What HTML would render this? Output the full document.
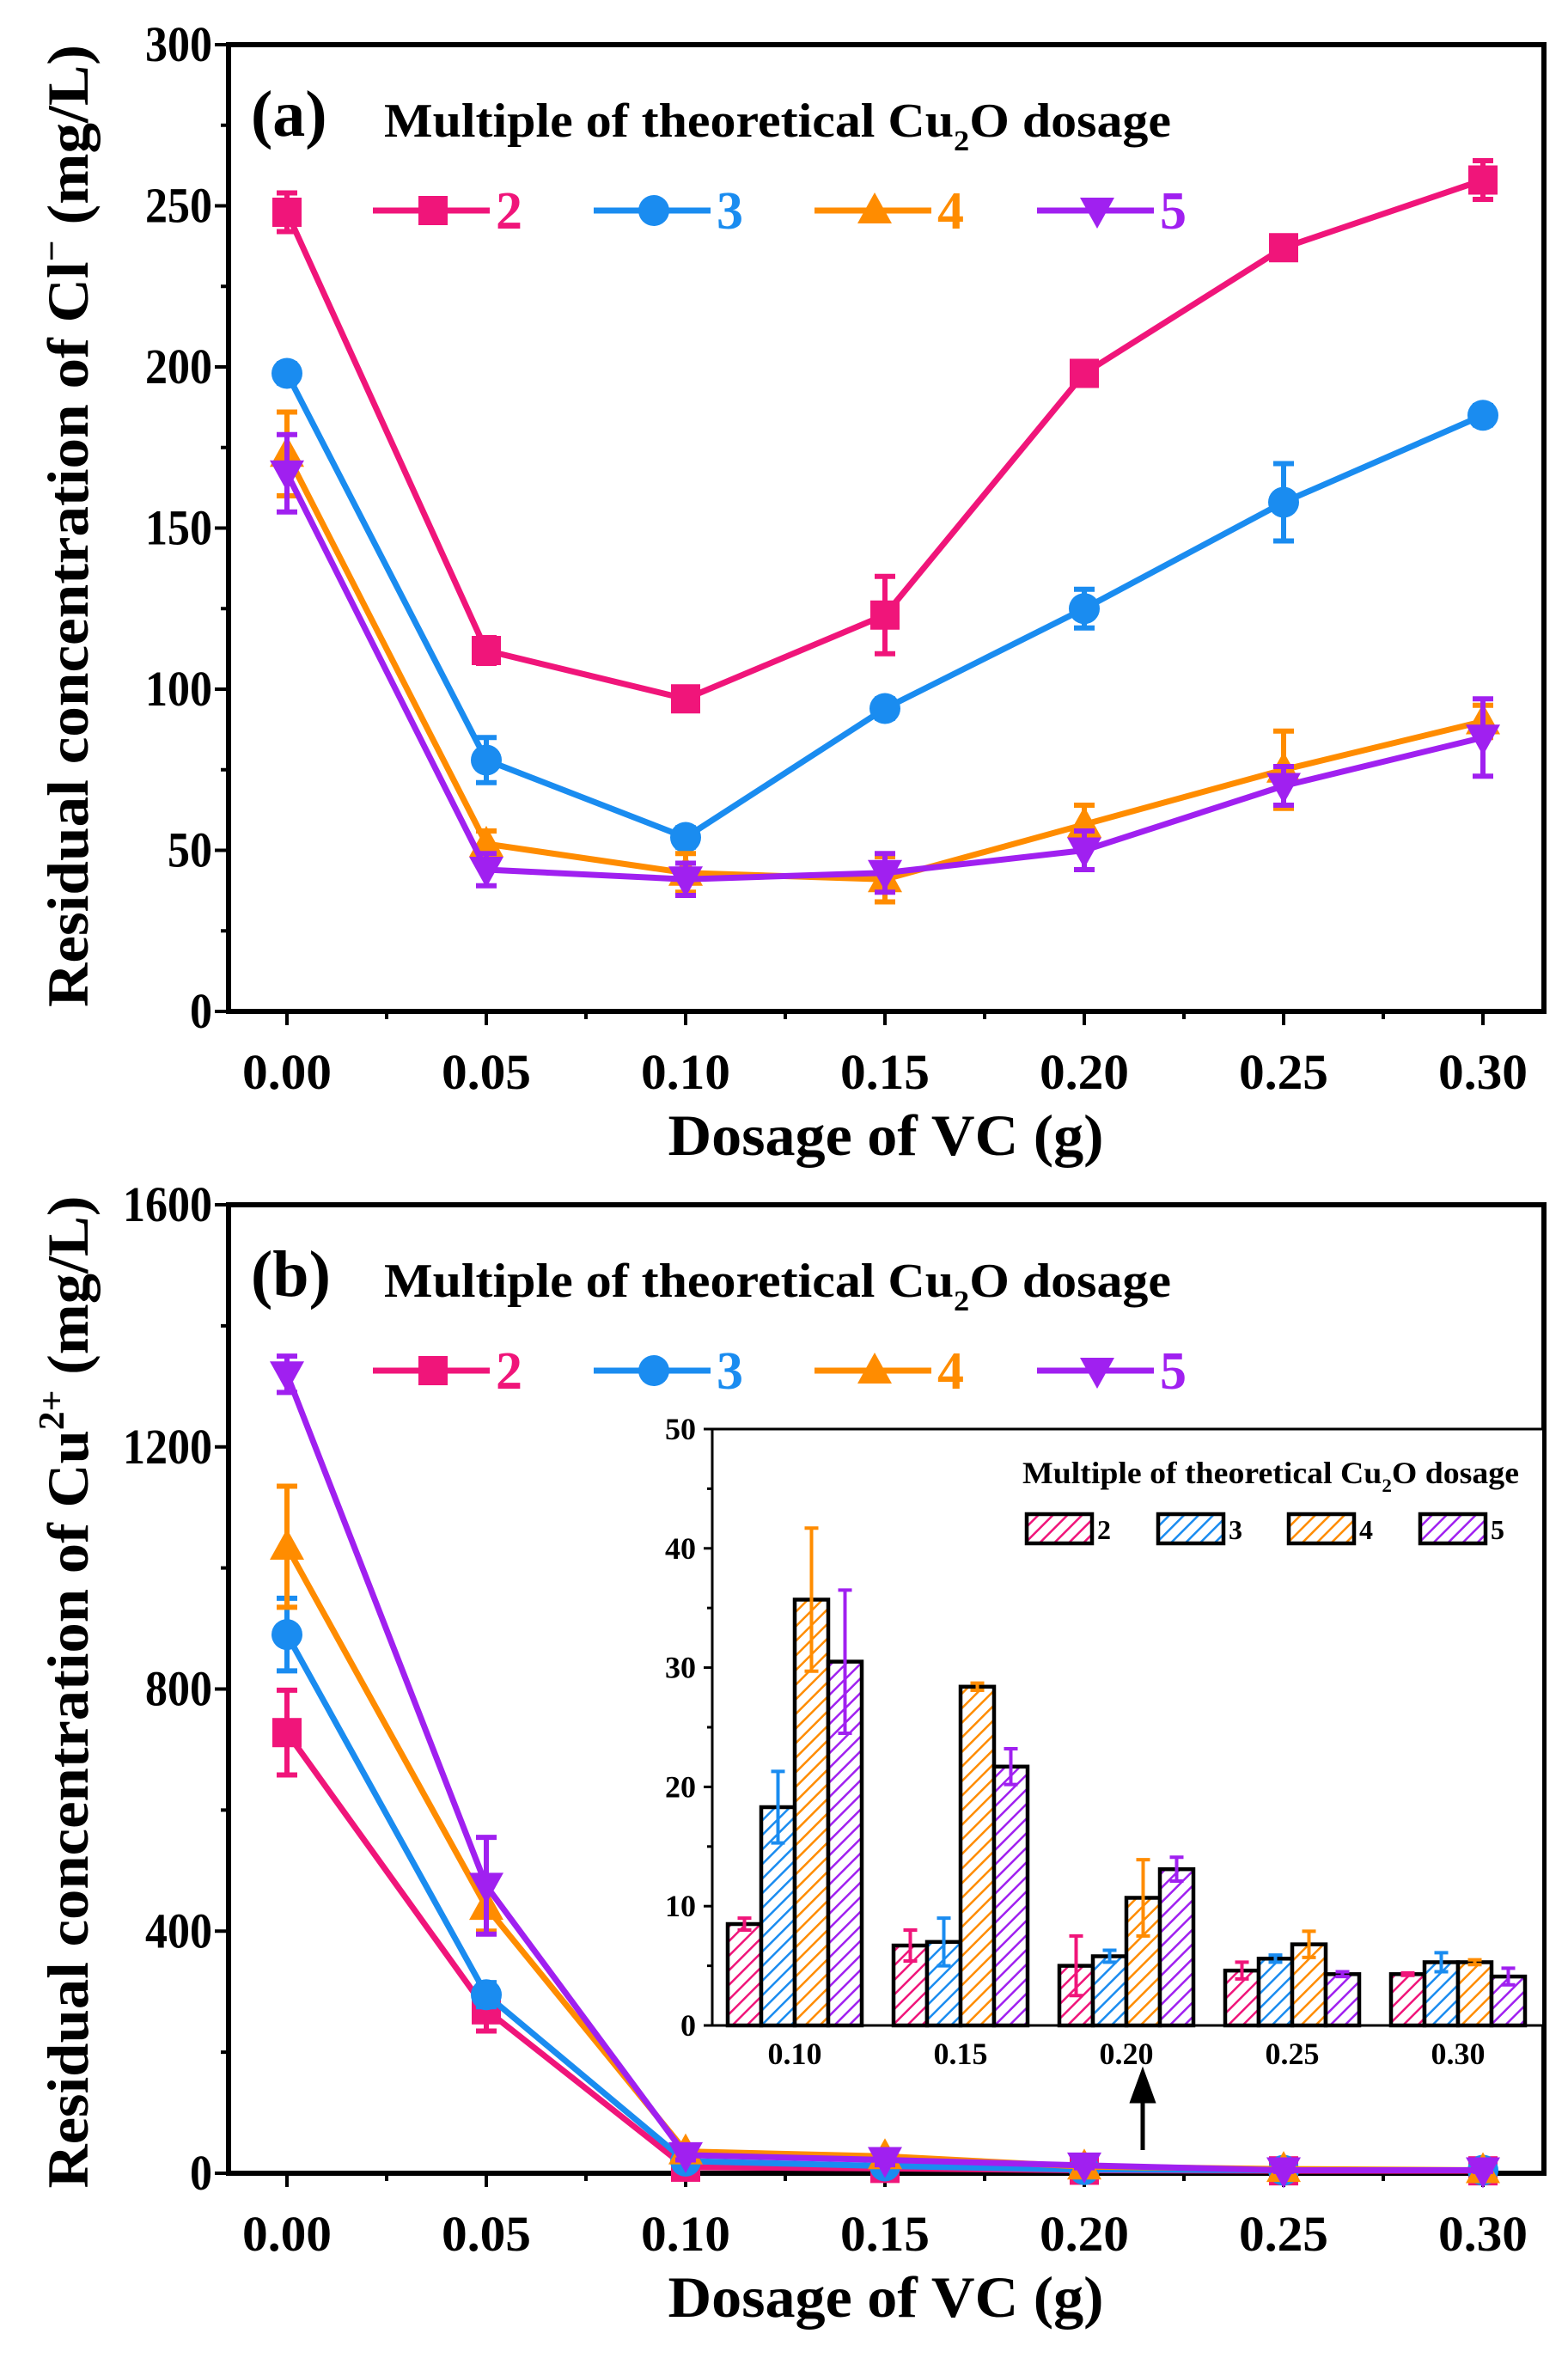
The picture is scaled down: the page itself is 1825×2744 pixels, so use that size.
<!DOCTYPE html>
<html><head><meta charset="utf-8">
<style>
html,body{margin:0;padding:0;background:#fff;}
svg{display:block;font-family:"Liberation Serif",serif;font-weight:bold;}
</style></head>
<body>
<svg id="fig" xmlns="http://www.w3.org/2000/svg" width="1825" height="2744" viewBox="0 0 1825 2744">
<defs>
<pattern id="h0" patternUnits="userSpaceOnUse" width="12" height="12" patternTransform="rotate(45)"><rect width="12" height="12" fill="#fff"/><line x1="0" y1="0" x2="0" y2="12" stroke="#f0157a" stroke-width="5"/></pattern>
<pattern id="h1" patternUnits="userSpaceOnUse" width="12" height="12" patternTransform="rotate(45)"><rect width="12" height="12" fill="#fff"/><line x1="0" y1="0" x2="0" y2="12" stroke="#1a8cf0" stroke-width="5"/></pattern>
<pattern id="h2" patternUnits="userSpaceOnUse" width="12" height="12" patternTransform="rotate(45)"><rect width="12" height="12" fill="#fff"/><line x1="0" y1="0" x2="0" y2="12" stroke="#ff8c00" stroke-width="5"/></pattern>
<pattern id="h3" patternUnits="userSpaceOnUse" width="12" height="12" patternTransform="rotate(45)"><rect width="12" height="12" fill="#fff"/><line x1="0" y1="0" x2="0" y2="12" stroke="#a020f0" stroke-width="5"/></pattern>
</defs>
</svg>
<script>
// ---- data ----
const dosages = [0, 0.05, 0.10, 0.15, 0.20, 0.25, 0.30];
const seriesNames = ["2", "3", "4", "5"];
const clS2 = [248, 112, 97, 123, 198, 237, 258];
const clS3 = [198, 78, 54, 94, 125, 158, 185];
const clS4 = [173, 52, 43, 41, 58, 75, 90];
const clS5 = [167, 44, 41, 43, 50, 70, 85];
const clE2 = [6, 4, 3, 12, 3, 3, 6];
const clE3 = [3, 7, 3, 3, 6, 12, 3];
const clE4 = [13, 4, 6, 7, 6, 12, 5];
const clE5 = [12, 5, 5, 6, 6, 6, 12];
const cuS2 = [728, 270, 10, 8, 5, 4, 4];
const cuS3 = [890, 295, 20, 12, 6, 5, 5];
const cuS4 = [1035, 440, 36, 28, 11, 7, 5];
const cuS5 = [1320, 475, 30, 22, 13, 5, 5];
const cuE2 = [70, 35, 5, 5, 3, 2, 2];
const cuE3 = [60, 20, 5, 5, 3, 2, 2];
const cuE4 = [100, 40, 8, 8, 4, 3, 2];
const cuE5 = [30, 80, 8, 8, 4, 2, 2];
const insetCats = ["0.10", "0.15", "0.20", "0.25", "0.30"];
const inS2 = [8.5, 6.7, 5.0, 4.6, 4.3];
const inS3 = [18.3, 7.0, 5.8, 5.6, 5.3];
const inS4 = [35.7, 28.4, 10.7, 6.8, 5.3];
const inS5 = [30.5, 21.7, 13.1, 4.3, 4.1];
const inE2 = [0.5, 1.3, 2.5, 0.7, 0.1];
const inE3 = [3.0, 2.0, 0.5, 0.3, 0.8];
const inE4 = [6.0, 0.3, 3.2, 1.1, 0.2];
const inE5 = [6.0, 1.5, 1.0, 0.2, 0.7];
const xTicks = ["0.00","0.05","0.10","0.15","0.20","0.25","0.30"];
const yTicksA = [0, 50, 100, 150, 200, 250, 300];
const yTicksB = [0, 400, 800, 1200, 1600];
const yTicksIn = [0, 10, 20, 30, 40, 50];

const colors = ["#f0157a", "#1a8cf0", "#ff8c00", "#a020f0"];
const markers = ["square", "circle", "up", "down"];
const NS = "http://www.w3.org/2000/svg";
const svg = document.getElementById("fig");

function mk(tag, attrs, parent) {
  const e = document.createElementNS(NS, tag);
  for (const k in attrs) e.setAttribute(k, attrs[k]);
  (parent || svg).appendChild(e);
  return e;
}
const X0 = 334, XSTEP = 232, FL = 266, FR = 1797;
function xs(d) { return X0 + d / 0.05 * XSTEP; }

function marker(g, type, cx, cy, col) {
  let e;
  const s = 17;
  if (type === "square") e = mk("rect", {x: cx - s, y: cy - s, width: 2*s, height: 2*s, fill: col}, g);
  else if (type === "circle") e = mk("circle", {cx: cx, cy: cy, r: s + 1, fill: col}, g);
  else if (type === "up") e = mk("polygon", {points: `${cx},${cy-21} ${cx+20},${cy+15} ${cx-20},${cy+15}`, fill: col}, g);
  else e = mk("polygon", {points: `${cx},${cy+21} ${cx+20},${cy-15} ${cx-20},${cy-15}`, fill: col}, g);
  return e;
}

function panel(opts) {
  const {top, bottom, max, yTicks, minorStep, id, vals, errs, label, ytitle, ysup, ytitleCy, ytitleLen} = opts;
  const ys = v => bottom - v / max * (bottom - top);
  const g = mk("g", {});
  
  
  const fr = mk("rect", {x: FL, y: top, width: FR - FL, height: bottom - top, fill: "none", stroke: "#000", "stroke-width": 6}, g);
  
  
  for (let i = 0; i <= 13; i++) {
    const d = -0.025 + i * 0.025;
    const x = xs(d);
    if (x < FL || x > FR) continue;
    const major = i % 2 === 1;
    const t = mk("line", {x1: x, y1: bottom, x2: x, y2: bottom + (major ? 16 : 9), stroke: "#000", "stroke-width": 4}, g);
    
    
  }
  xTicks.forEach((lab, i) => {
    const t = mk("text", {x: xs(dosages[i]), y: bottom + 90, "font-size": 58, "text-anchor": "middle", textLength: 104, lengthAdjust: "spacingAndGlyphs"}, g);
    t.textContent = lab;
    
    
  });
  for (let v = 0; v <= max + 1e-6; v += minorStep) {
    const major = yTicks.indexOf(Math.round(v)) >= 0;
    const y = ys(v);
    const t = mk("line", {x1: FL, y1: y, x2: FL - (major ? 16 : 9), y2: y, stroke: "#000", "stroke-width": 4}, g);
    
    
  }
  yTicks.forEach(v => {
    const t = mk("text", {x: 247, y: ys(v) + 19, "font-size": 58, "text-anchor": "end", textLength: String(v).length * 26, lengthAdjust: "spacingAndGlyphs"}, g);
    t.textContent = v;
    
    
  });
  const xt = mk("text", {x: 1031, y: bottom + 167, "font-size": 68, "text-anchor": "middle", textLength: 507, lengthAdjust: "spacingAndGlyphs"}, g);
  xt.textContent = "Dosage of VC (g)";
  
  
  const yt = mk("text", {x: 0, y: 0, "font-size": 68, "text-anchor": "middle", textLength: ytitleLen, lengthAdjust: "spacingAndGlyphs", transform: `translate(102,${ytitleCy}) rotate(-90)`}, g);
  
  
  const t1 = mk("tspan", {}, yt); t1.textContent = ytitle;
  const t2 = mk("tspan", {dy: -28, "font-size": 42}, yt); t2.textContent = ysup;
  const t3 = mk("tspan", {dy: 28}, yt); t3.textContent = " (mg/L)";
  const pl = mk("text", {x: 292, y: top + 106, "font-size": 76}, g);
  pl.textContent = label;
  
  
  const lt = mk("text", {x: 447, y: top + 107, "font-size": 56, textLength: 916, lengthAdjust: "spacingAndGlyphs"}, g);
  
  
  const a1 = mk("tspan", {}, lt); a1.textContent = "Multiple of theoretical Cu";
  const a2 = mk("tspan", {dy: 16, "font-size": 34}, lt); a2.textContent = "2";
  const a3 = mk("tspan", {dy: -16}, lt); a3.textContent = "O dosage";
  const lx = [434, 691, 948, 1207];
  const ly = top + 193;
  seriesNames.forEach((n, i) => {
    const lg = mk("g", {}, g);
    
    
    mk("line", {x1: lx[i], y1: ly, x2: lx[i] + 136, y2: ly, stroke: colors[i], "stroke-width": 7}, lg);
    marker(lg, markers[i], lx[i] + 70, ly, colors[i]);
    const tt = mk("text", {x: lx[i] + 143, y: ly + 21, "font-size": 62, fill: colors[i]}, lg);
    tt.textContent = n;
  });
  vals.forEach((arr, si) => {
    const sg = mk("g", {}, g);
    
    
    const pts = arr.map((v, i) => `${xs(dosages[i])},${ys(v)}`).join(" ");
    const pl2 = mk("polyline", {points: pts, fill: "none", stroke: colors[si], "stroke-width": 7, "stroke-linejoin": "round"}, sg);
    
    
    arr.forEach((v, i) => {
      const x = xs(dosages[i]), e = errs[si][i];
      const y1 = ys(v + e), y2 = ys(v - e);
      const eb = mk("path", {d: `M${x},${y1}V${y2}M${x-12},${y1}H${x+12}M${x-12},${y2}H${x+12}`, stroke: colors[si], "stroke-width": 6, fill: "none"}, sg);
      
      
      const m = marker(sg, markers[si], x, ys(v), colors[si]);
      
      
    });
  });
  return g;
}

panel({top: 52, bottom: 1177, max: 300, yTicks: yTicksA, minorStep: 25, id: "a",
  vals: [clS2, clS3, clS4, clS5], errs: [clE2, clE3, clE4, clE5], label: "(a)",
  ytitle: "Residual concentration of Cl", ysup: "\u2212", ytitleCy: 612, ytitleLen: 1120});
panel({top: 1402, bottom: 2529, max: 1600, yTicks: yTicksB, minorStep: 200, id: "b",
  vals: [cuS2, cuS3, cuS4, cuS5], errs: [cuE2, cuE3, cuE4, cuE5], label: "(b)",
  ytitle: "Residual concentration of Cu", ysup: "2+", ytitleCy: 1969, ytitleLen: 1155});

// ---- inset ----
const IL = 829, IT = 1663, IB = 2357, IR = 1795;
const iy = v => IB - v / 50 * (IB - IT);
const GC0 = 925, GSTEP = 193, BW = 39;
const ig = mk("g", {});


const ibg = mk("rect", {x: IL, y: IT, width: IR - IL, height: IB - IT, fill: "#fff"}, ig);


const iax = mk("path", {d: `M${IR},${IT}H${IL}V${IB}H${IR}`, stroke: "#000", "stroke-width": 3, fill: "none"}, ig);


for (let v = 0; v <= 50; v += 5) {
  const major = v % 10 === 0;
  const t = mk("line", {x1: IL, y1: iy(v), x2: IL - (major ? 10 : 6), y2: iy(v), stroke: "#000", "stroke-width": 3}, ig);
  
  
}
yTicksIn.forEach(v => {
  const t = mk("text", {x: 810, y: iy(v) + 12, "font-size": 36, "text-anchor": "end"}, ig);
  t.textContent = v;
  
  
});
const inVals = [inS2, inS3, inS4, inS5], inErrs = [inE2, inE3, inE4, inE5];
insetCats.forEach((c, gi) => {
  const gc = GC0 + gi * GSTEP;
  const t = mk("text", {x: gc, y: 2402, "font-size": 36, "text-anchor": "middle"}, ig);
  t.textContent = c;
  
  
  inVals.forEach((arr, si) => {
    const x = gc + (si - 2) * BW;
    const v = arr[gi], e = inErrs[si][gi];
    const b = mk("rect", {x: x, y: iy(v), width: BW, height: IB - iy(v), fill: `url(#h${si})`, stroke: "#000", "stroke-width": 4.5}, ig);
    
    
    const cx = x + BW / 2, y1 = iy(v + e), y2 = iy(v - e);
    const eb = mk("path", {d: `M${cx},${y1}V${y2}M${cx-8},${y1}H${cx+8}M${cx-8},${y2}H${cx+8}`, stroke: colors[si], "stroke-width": 4, fill: "none"}, ig);
    
    
  });
});
const ilt = mk("text", {x: 1190, y: 1726, "font-size": 36, textLength: 578, lengthAdjust: "spacingAndGlyphs"}, ig);


const b1 = mk("tspan", {}, ilt); b1.textContent = "Multiple of theoretical Cu";
const b2 = mk("tspan", {dy: 10, "font-size": 22}, ilt); b2.textContent = "2";
const b3 = mk("tspan", {dy: -10}, ilt); b3.textContent = "O dosage";
const ilx = [1195, 1348, 1500, 1653];
seriesNames.forEach((n, i) => {
  const lg = mk("g", {}, ig);
  
  
  mk("rect", {x: ilx[i], y: 1762, width: 76, height: 34, fill: `url(#h${i})`, stroke: "#000", "stroke-width": 4.5}, lg);
  const tt = mk("text", {x: ilx[i] + 82, y: 1791, "font-size": 32}, lg);
  tt.textContent = n;
});
const ar = mk("path", {d: "M1330,2502V2440M1318,2445L1330,2412L1342,2445Z", stroke: "#000", "stroke-width": 5, fill: "#000"});


</script>
</body></html>
